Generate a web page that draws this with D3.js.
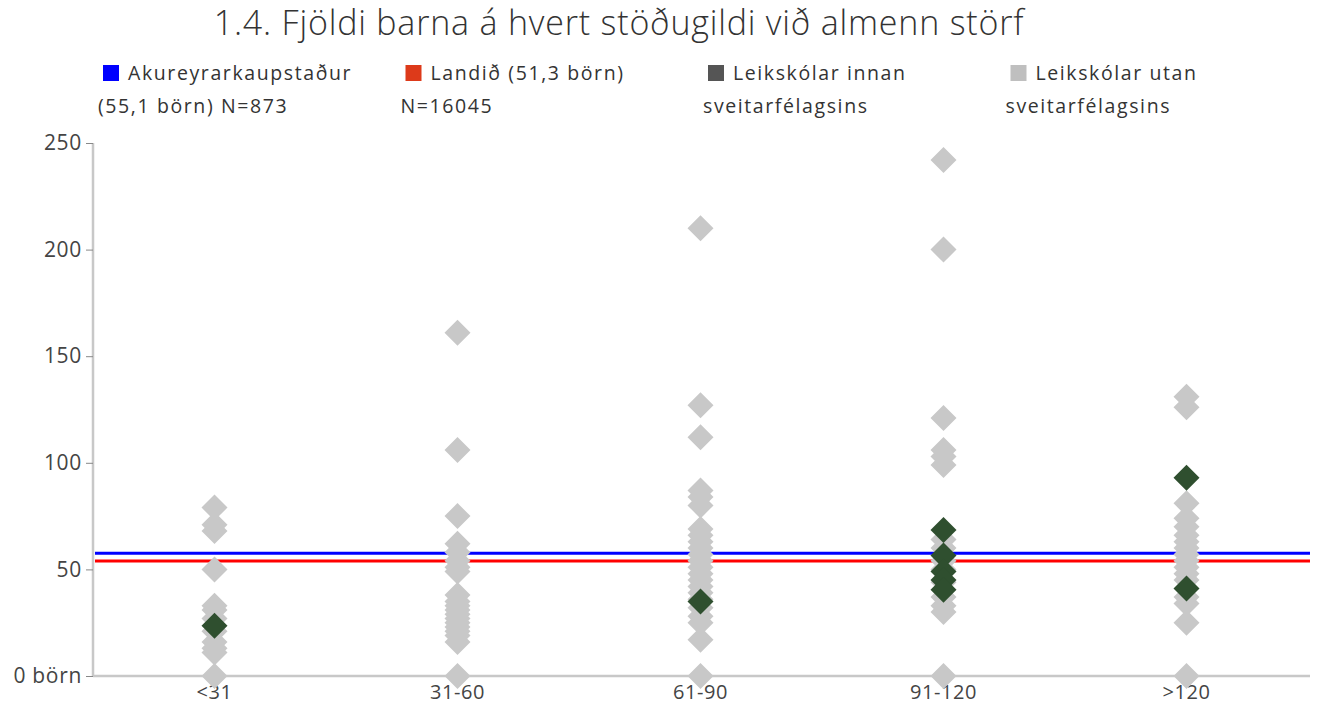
<!DOCTYPE html>
<html><head><meta charset="utf-8">
<script src="https://cdn.jsdelivr.net/npm/d3@7"></script>
<style>
body{margin:0;background:#fff;}
text{font-family:"Open Sans",Lato,sans-serif;}
</style></head>
<body>
<svg id="c" width="1319" height="706"></svg>
<script>
const categories = ["<31","31-60","61-90","91-120",">120"];
const grayValues = [
  [79,71,68,50,33,31,27,21,16,13,11,0],
  [161,106,75,62,58,54,51,49,38,35,33,31,29,27,25,23,21,19,16,0],
  [210,127,112,87,84,80,69,66,63,60,57,54,51,48,45,42,39,36,32,28,25,17,0],
  [242,200,121,106,103,99,64,60,54,50,44,37,33,30,0],
  [131,126,81,74,70,66,63,60,57,54,51,48,45,37,34,25,0]
];
const darkValues = [
  [23.6],
  [],
  [35],
  [68.5,56.5,49,45,40.5],
  [93,41]
];
const refLines = [57.6, 53.9];   // Akureyrarkaupstaður, Landið (as drawn)
const refColors = ["#0000ff","#ff0000"];
const yTicks = [0,50,100,150,200,250];
const legendItems = [
  {lines:["Akureyrarkaupstaður","(55,1 börn) N=873"], color:"#0000ff"},
  {lines:["Landið (51,3 börn)","N=16045"], color:"#dd3a1a"},
  {lines:["Leikskólar innan","sveitarfélagsins"], color:"#555555"},
  {lines:["Leikskólar utan","sveitarfélagsins"], color:"#bfbfbf"}
];
const title = "1.4. Fjöldi barna á hvert stöðugildi við almenn störf";

(function(){
const svg = d3.select("#c");
const pL = 93, pR = 1308, pT = 143, pB = 676;
const x = d3.scaleBand().domain(categories).range([pL, pR]);
const y = d3.scaleLinear().domain([0,250]).range([pB, pT]);

svg.append("text").attr("x",619).attr("y",35).attr("text-anchor","middle")
  .attr("font-family","Lato, sans-serif")
  .attr("font-size",34).attr("font-weight",300).attr("letter-spacing",0.8)
  .attr("fill","#333").text(title);

const lg = svg.append("g");
legendItems.forEach((d,i)=>{
  const gx = 98 + i*302.5;
  lg.append("rect").attr("x",gx+5).attr("y",65).attr("width",16).attr("height",16).attr("fill",d.color);
  lg.append("text").attr("x",gx+30).attr("y",80).attr("font-size",19.5).attr("letter-spacing",1.6).attr("fill","#333").text(d.lines[0]);
  lg.append("text").attr("x",gx).attr("y",113).attr("font-size",19.5).attr("letter-spacing",1.6).attr("fill","#333").text(d.lines[1]);
});

const ya = svg.append("g").attr("transform",`translate(${pL},0)`)
  .call(d3.axisLeft(y).tickValues(yTicks).tickSize(7).tickPadding(4)
    .tickFormat(v => v===0 ? "0 börn" : v));
ya.select(".domain").attr("stroke","#c8c8c8").attr("stroke-width",2.5).attr("d",`M0,${pT}V${pB}`);
ya.selectAll(".tick line").attr("stroke","#888");
ya.selectAll(".tick text").attr("font-size",21).attr("letter-spacing",0.7).attr("fill","#444");

const xa = svg.append("g").attr("transform",`translate(0,${pB})`)
  .call(d3.axisBottom(x).tickSize(0).tickPadding(9));
xa.select(".domain").attr("stroke","#c8c8c8").attr("stroke-width",2.5).attr("d",`M${pL},0H1310`);
xa.selectAll(".tick text").attr("font-size",20).attr("letter-spacing",0.6).attr("fill","#444");

refLines.forEach((v,i)=>{
  svg.append("line").attr("x1",pL+2).attr("x2",1310).attr("y1",y(v)).attr("y2",y(v))
    .attr("stroke",refColors[i]).attr("stroke-width",3);
});

const r = 13;
const diamond = `M0,${-r}L${r},0L0,${r}L${-r},0Z`;
function drawSet(vals, color){
  vals.forEach((arr,ci)=>{
    const cx = x(categories[ci]) + x.bandwidth()/2;
    svg.append("g").selectAll("path").data(arr).join("path")
      .attr("d",diamond).attr("fill",color)
      .attr("transform",d=>`translate(${cx},${y(d)})`);
  });
}
drawSet(grayValues,"#c8c8c8");
drawSet(darkValues,"#2f4f2f");
})();
</script>
</body></html>
